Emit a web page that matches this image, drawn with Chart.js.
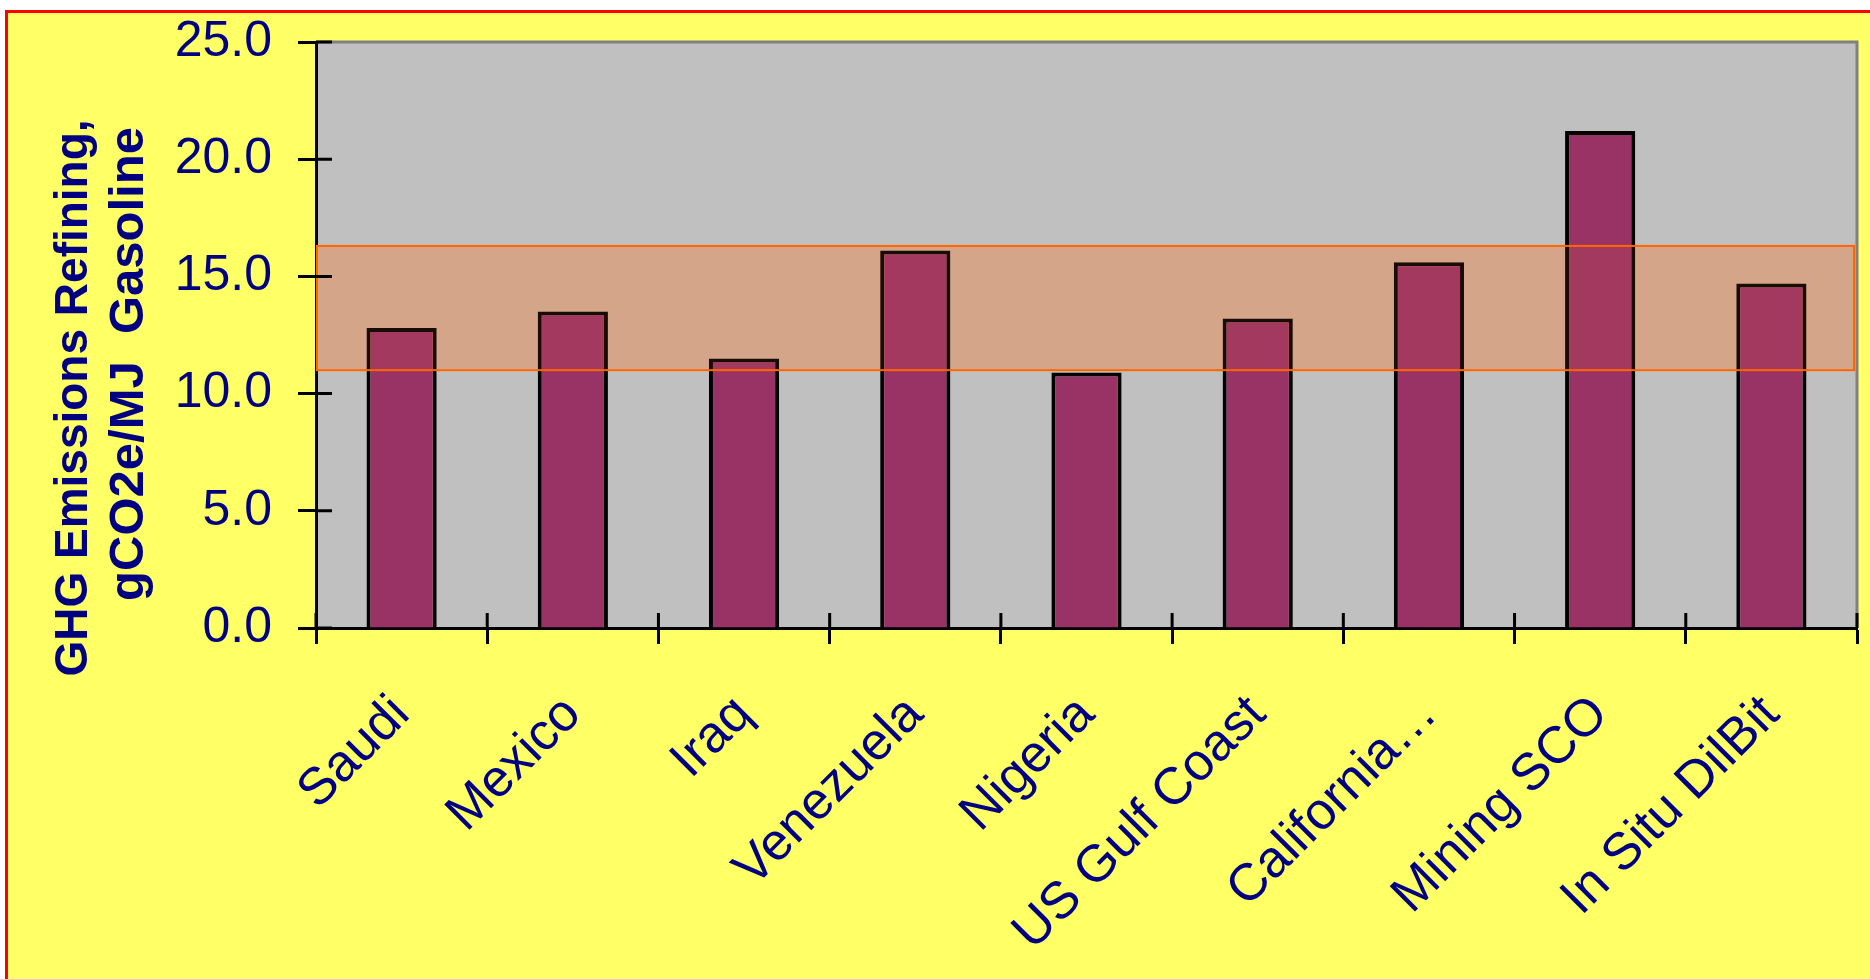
<!DOCTYPE html>
<html>
<head>
<meta charset="utf-8">
<script src="https://cdn.jsdelivr.net/npm/chart.js@4"></script>
<style>
  body { margin: 0; background: #fff; }
  #frame {
    position: absolute; left: 5px; top: 10px; right: 0; bottom: 0;
    background: #FFFF66;
    border-left: 3px solid #FF0000;
    border-top: 3px solid #FF0000;
  }
  #chart { position: absolute; left: 0; top: 0; }
</style>
</head>
<body>
<div id="frame"></div>
<canvas id="chart" width="1870" height="979"></canvas>
<script>
// data
const categories = ['Saudi', 'Mexico', 'Iraq', 'Venezuela', 'Nigeria',
                    'US Gulf Coast', 'California\u2026', 'Mining SCO', 'In Situ DilBit'];
const ghgRefining = [12.8, 13.5, 11.5, 16.1, 10.9, 13.2, 15.6, 21.2, 14.7];
const bandRange = [11.0, 16.3];
const yTicks = [0, 5, 10, 15, 20, 25];
const yTitleLines = ['GHG Emissions Refining,', 'gCO2e/MJ  Gasoline'];

const navy = '#000080';
const fontFamily = '"Liberation Sans", Arial, sans-serif';

function bandRect(chart) {
  const a = chart.chartArea;
  const y = chart.scales.y;
  const top = y.getPixelForValue(bandRange[1]);
  const bottom = y.getPixelForValue(bandRange[0]);
  return { x: a.left + 1, y: top, w: a.right - a.left - 4, h: bottom - top };
}

// gray plot area, the orange range band, inner halves of the cross ticks and the y title
const decorPlugin = {
  id: 'decor',
  beforeDraw: function(chart) {
    const a = chart.chartArea;
    const ctx = chart.ctx;
    ctx.save();
    ctx.fillStyle = '#C0C0C0';
    ctx.fillRect(a.left, a.top, a.right - a.left, a.bottom - a.top);
    ctx.strokeStyle = '#808080';
    ctx.lineWidth = 3;
    ctx.beginPath();
    ctx.moveTo(a.left, a.top);
    ctx.lineTo(a.right, a.top);
    ctx.lineTo(a.right, a.bottom);
    ctx.stroke();
    ctx.restore();
  },
  beforeDatasetsDraw: function(chart) {
    const r = bandRect(chart);
    const ctx = chart.ctx;
    ctx.save();
    ctx.fillStyle = 'rgba(255, 120, 40, 0.28)';
    ctx.fillRect(r.x, r.y, r.w, r.h);
    ctx.restore();
  },
  afterDatasetsDraw: function(chart) {
    const a = chart.chartArea;
    const y = chart.scales.y;
    const x = chart.scales.x;
    const ctx = chart.ctx;
    const r = bandRect(chart);
    ctx.save();
    ctx.fillStyle = 'rgba(255, 120, 40, 0.1)';
    ctx.fillRect(r.x, r.y, r.w, r.h);
    ctx.strokeStyle = '#FF6600';
    ctx.lineWidth = 2;
    ctx.strokeRect(r.x, r.y, r.w, r.h);

    ctx.strokeStyle = '#000';
    ctx.lineWidth = 3;
    ctx.beginPath();
    yTicks.forEach(function(v) {
      const py = y.getPixelForValue(v);
      ctx.moveTo(a.left, py);
      ctx.lineTo(a.left + 16, py);
    });
    const step = x.getPixelForTick(1) - x.getPixelForTick(0);
    for (let i = 0; i <= categories.length; i++) {
      const px = x.getPixelForTick(0) + (i - 0.5) * step;
      ctx.moveTo(px, a.bottom);
      ctx.lineTo(px, a.bottom - 15);
    }
    ctx.stroke();
    ctx.restore();
  },
  afterDraw: function(chart) {
    const ctx = chart.ctx;
    const lines = [
      { text: yTitleLines[0], x: 87, y: 398, size: 46 },
      { text: yTitleLines[1], x: 143, y: 364, size: 49 }
    ];
    lines.forEach(function(l) {
      ctx.save();
      ctx.fillStyle = navy;
      ctx.font = 'bold ' + l.size + 'px ' + fontFamily;
      ctx.textAlign = 'center';
      ctx.textBaseline = 'alphabetic';
      ctx.translate(l.x, l.y);
      ctx.rotate(-Math.PI / 2);
      ctx.fillText(l.text, 0, 0);
      ctx.restore();
    });
  }
};

new Chart('chart', {
  type: 'bar',
  data: {
    labels: categories,
    datasets: [{
      label: 'GHG Emissions Refining',
      data: ghgRefining,
      backgroundColor: '#993366',
      borderColor: '#000000',
      borderWidth: 4,
      borderSkipped: 'bottom',
      barPercentage: 1,
      categoryPercentage: 0.41
    }]
  },
  options: {
    responsive: false,
    animation: false,
    devicePixelRatio: 1,
    layout: { padding: { left: 0, top: 42, right: 13, bottom: 0 } },
    plugins: {
      legend: { display: false },
      tooltip: { enabled: false }
    },
    scales: {
      x: {
        afterFit: function(scale) {
          scale.height = 351;
          scale.paddingLeft = 0;
          scale.paddingRight = 0;
        },
        border: { color: '#000', width: 3 },
        grid: { drawOnChartArea: false, color: '#000', tickColor: '#000', tickWidth: 3, tickLength: 16, offset: true },
        ticks: {
          color: navy,
          font: { family: fontFamily, size: 52 },
          minRotation: 45,
          maxRotation: 45,
          autoSkip: false,
          padding: 40
        }
      },
      y: {
        min: 0,
        max: 25,
        afterFit: function(scale) {
          scale.width = 316;
          scale.paddingTop = 0;
          scale.paddingBottom = 0;
        },
        afterBuildTicks: function(scale) {
          scale.ticks = yTicks.map(function(v) { return { value: v }; });
        },
        border: { color: '#000', width: 3 },
        grid: { drawOnChartArea: false, tickColor: '#000', tickWidth: 3, tickLength: 18 },
        ticks: {
          color: navy,
          font: { family: fontFamily, size: 50 },
          padding: 26,
          callback: function(v) { return Number(v).toFixed(1); }
        }
      }
    }
  },
  plugins: [decorPlugin]
});
</script>
</body>
</html>
